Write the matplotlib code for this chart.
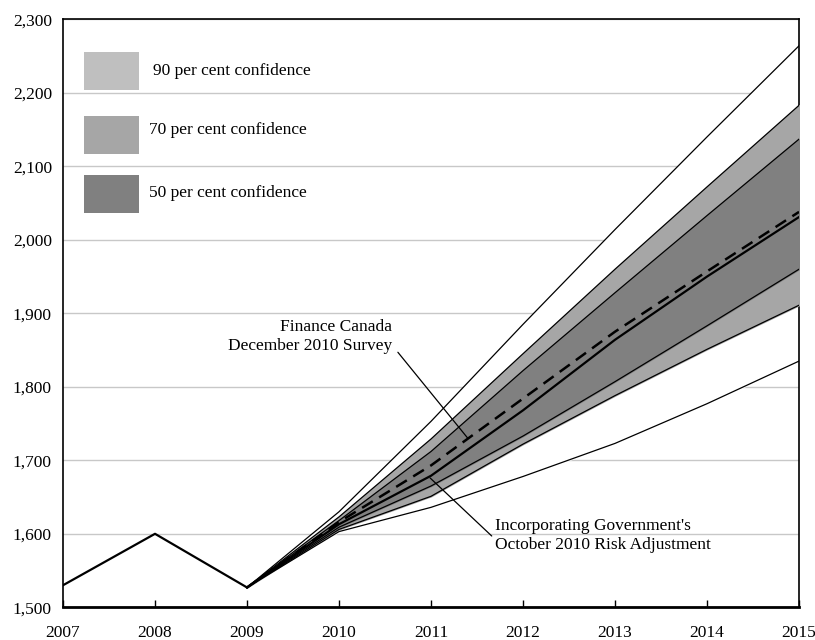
import numpy as np
import matplotlib
matplotlib.use("Agg")
import matplotlib.pyplot as plt
from matplotlib.patches import Rectangle

# Nominal GDP fan chart ($ billions)
hist_years = [2007, 2008, 2009]
hist_gdp = [1530, 1600, 1527]

fan_years = [2009, 2010, 2011, 2012, 2013, 2014, 2015]
upper_90 = [1527, 1630, 1753, 1885, 2014, 2140, 2264]
upper_70 = [1527, 1623, 1729, 1845, 1960, 2072, 2183]
upper_50 = [1527, 1618, 1712, 1822, 1928, 2033, 2137]
survey = [1527, 1616, 1693, 1784, 1875, 1957, 2038]
adjusted = [1527, 1613, 1679, 1768, 1864, 1950, 2031]
lower_50 = [1527, 1609, 1665, 1733, 1807, 1883, 1960]
lower_70 = [1527, 1606, 1651, 1722, 1788, 1851, 1911]
lower_90 = [1527, 1603, 1636, 1678, 1723, 1777, 1835]

band_labels = ["90 per cent confidence", "70 per cent confidence", "50 per cent confidence"]
band_colors = ["#bfbfbf", "#a6a6a6", "#808080"]

plt.rcParams["font.family"] = ["Liberation Serif", "DejaVu Serif"]
plt.rcParams["font.size"] = 12.5

fig = plt.figure(figsize=(8.15, 6.4), dpi=100)
ax = fig.add_axes([0.0773, 0.0511, 0.9031, 0.9187])

ax.set_xlim(2007, 2015)
ax.set_ylim(1500, 2300)
ax.set_yticks(np.arange(1500, 2301, 100))
ax.set_yticklabels([f"{v:,}" for v in range(1500, 2301, 100)])
ax.set_xticks(range(2007, 2016))
ax.tick_params(axis="y", length=0, pad=8)
ax.tick_params(axis="x", direction="in", length=5, width=1, pad=13)
ax.grid(axis="y", color="#c8c8c8", linewidth=1)
ax.set_axisbelow(True)
for side in ["top", "right", "left"]:
    ax.spines[side].set_linewidth(1.2)
ax.spines["bottom"].set_linewidth(2)

# bands: outer 90% band is left white so the gridlines stop at it
ax.fill_between(fan_years, lower_90, upper_90, color="white", zorder=2)
ax.fill_between(fan_years, lower_70, upper_70, color=band_colors[1], zorder=3)
ax.fill_between(fan_years, lower_50, upper_50, color=band_colors[2], zorder=4)

for series in [upper_90, upper_70, upper_50, lower_50, lower_70, lower_90]:
    ax.plot(fan_years, series, color="black", linewidth=0.9, zorder=5)
ax.plot(fan_years, adjusted, color="black", linewidth=1.6, zorder=6)
ax.plot(fan_years, survey, color="black", linewidth=1.8, dashes=(5, 3), zorder=6)
ax.plot(hist_years, hist_gdp, color="black", linewidth=1.6, zorder=6)

# annotations
ax.text(2010.576, 1869, "Finance Canada\nDecember 2010 Survey", ha="right", va="center",
        multialignment="right", linespacing=1.25, zorder=8)
ax.annotate("", xy=(2011.40, 1730), xytext=(2010.64, 1847), zorder=8,
            arrowprops=dict(arrowstyle="-", color="black", linewidth=0.9,
                            shrinkA=0, shrinkB=0))
ax.text(2011.70, 1598, "Incorporating Government's\nOctober 2010 Risk Adjustment",
        ha="left", va="center", linespacing=1.25, zorder=8)
ax.annotate("", xy=(2010.99, 1676), xytext=(2011.66, 1597), zorder=8,
            arrowprops=dict(arrowstyle="-", color="black", linewidth=0.9,
                            shrinkA=0, shrinkB=0))

# legend boxes
boxes = [(0.0285, 0.880, 0.1223, 0.912),
         (0.0285, 0.771, 0.1170, 0.812),
         (0.0285, 0.671, 0.1170, 0.705)]
for (bx, by, tx, ty), label, col in zip(boxes, band_labels, band_colors):
    ax.add_patch(Rectangle((bx, by), 0.0748, 0.064, transform=ax.transAxes,
                           facecolor=col, edgecolor="none", zorder=7))
    ax.text(tx, ty, label, transform=ax.transAxes, ha="left", va="center", zorder=7)

fig.savefig("out.png", dpi=100)
